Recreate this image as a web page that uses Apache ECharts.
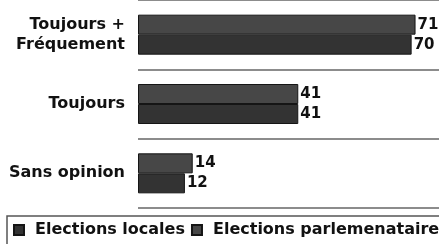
<!DOCTYPE html>
<html><head><meta charset="utf-8">
<script src="https://cdn.jsdelivr.net/npm/echarts@6/dist/echarts.min.js"></script>
<style>html,body{margin:0;padding:0;background:#fff}#c{width:439px;height:244px}</style>
</head><body><div id="c"></div>
<script>
const categories = ["Toujours +\nFréquement", "Toujours", "Sans opinion"];
const seriesNames = ["Elections locales", "Elections parlemenataires"];
const locales = [70, 41, 12];
const parlementaires = [71, 41, 14];

const chart = echarts.init(document.getElementById('c'));
const font = 'DejaVu Sans';
const lbl = {show: true, position: 'right', distance: 2, color: '#111', fontFamily: font, fontWeight: 'bold', fontSize: 15, lineHeight: 15};
chart.setOption({
  animation: false,
  grid: {left: 138, top: -3, bottom: 36, right: 0, containLabel: false},
  xAxis: {type: 'value', min: 0, max: 77, show: false, splitLine: {show: false}},
  yAxis: {
    type: 'category', data: categories, inverse: true,
    axisLine: {show: false}, axisTick: {show: false},
    axisLabel: {margin: 13, color: '#111', fontFamily: font, fontWeight: 'bold', fontSize: 16, lineHeight: 20, align: 'right'},
    splitLine: {show: true, lineStyle: {color: '#8c8c8c', width: 2}}
  },
  legend: {
    left: 7, top: 216, width: 900, padding: [6, 6, 20, 6], itemGap: 6,
    itemWidth: 10, itemHeight: 10, borderColor: '#555', borderWidth: 1.5, borderRadius: 0,
    icon: 'rect',
    textStyle: {color: '#111', fontFamily: font, fontWeight: 'bold', fontSize: 16, padding: [0, 0, 0, 6]},
    data: seriesNames
  },
  series: [
    {name: seriesNames[1], type: 'bar', data: parlementaires, barWidth: 20, barGap: '0%',
     itemStyle: {color: '#474747', borderColor: '#151515', borderWidth: 1}, label: lbl},
    {name: seriesNames[0], type: 'bar', data: locales, barWidth: 20, barGap: '0%',
     itemStyle: {color: '#333333', borderColor: '#151515', borderWidth: 1}, label: lbl}
  ]
});
</script></body></html>
